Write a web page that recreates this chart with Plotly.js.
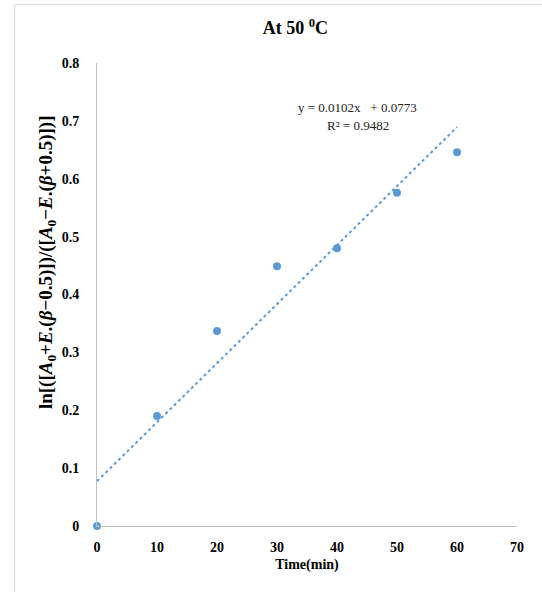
<!DOCTYPE html>
<html><head><meta charset="utf-8">
<script src="https://cdn.plot.ly/plotly-3.0.1.min.js"></script>
<style>html,body{margin:0;padding:0;background:#fff;}#chart{width:542px;height:592px;}</style>
</head><body><div id="chart"></div>
<script>
const timeMin = [0, 10, 20, 30, 40, 50, 60];
const lnRatio = [0, 0.190, 0.337, 0.449, 0.480, 0.576, 0.646];
const slope = 0.0102;
const intercept = 0.0773;
const trendX = [0, 60];
const xTicks = [0, 10, 20, 30, 40, 50, 60, 70];
const yTicks = [0, 0.1, 0.2, 0.3, 0.4, 0.5, 0.6, 0.7, 0.8];
const yLabel = 'ln[([<i>A</i><sub>0</sub>+<i>E</i>.(<i>β</i>−0.5)])/([<i>A</i><sub>0</sub>−<i>E</i>.(<i>β</i>+0.5)])]';

const trendY = trendX.map(x => slope * x + intercept);
const serif = "Liberation Serif, Times New Roman, serif";

const data = [
  {x: trendX, y: trendY, mode: 'lines', type: 'scatter',
   line: {color: '#5B9BD5', width: 2, dash: 'dot'}, hoverinfo: 'skip', showlegend: false},
  {x: timeMin, y: lnRatio, mode: 'markers', type: 'scatter', cliponaxis: false,
   marker: {color: '#5B9BD5', size: 8}, showlegend: false}
];

const layout = {
  width: 542, height: 592,
  paper_bgcolor: '#fff', plot_bgcolor: '#fff',
  margin: {l: 97, r: 25, t: 63, b: 66},
  title: {text: 'At 50 <sup>0</sup>C', font: {family: serif, size: 18, color: '#000', weight: 'bold'},
          x: 0.545, xanchor: 'center', y: 0.953, yanchor: 'middle'},
  xaxis: {range: [0, 70], tickvals: xTicks, ticktext: xTicks.map(v => String(v)),
          showgrid: false, zeroline: false, showline: true, linecolor: '#bfbfbf', linewidth: 1,
          ticks: '', ticklabelstandoff: 8, tickfont: {family: serif, size: 14, color: '#000', weight: 'bold'},
          title: {text: 'Time(min)', font: {family: serif, size: 14, color: '#000', weight: 'bold'}, standoff: 5}},
  yaxis: {range: [0, 0.8], tickvals: yTicks, ticktext: yTicks.map(v => (v === 0 ? '0' : v.toFixed(1))),
          showgrid: false, zeroline: false, showline: true, linecolor: '#bfbfbf', linewidth: 1,
          ticks: '', ticklabelstandoff: 14, tickfont: {family: serif, size: 14, color: '#000', weight: 'bold'}},
  annotations: [
    {xref: 'paper', yref: 'paper', x: 0.621, y: 0.903, xanchor: 'center', yanchor: 'middle', showarrow: false,
     text: 'y = 0.0102x   + 0.0773', font: {family: serif, size: 13, color: '#222'}},
    {xref: 'paper', yref: 'paper', x: 0.621, y: 0.866, xanchor: 'center', yanchor: 'middle', showarrow: false,
     text: 'R² = 0.9482', font: {family: serif, size: 13, color: '#222'}},
    {xref: 'paper', yref: 'paper', x: 0, xshift: -50, y: 0.570, xanchor: 'center', yanchor: 'middle',
     showarrow: false, textangle: -90, text: yLabel,
     font: {family: serif, size: 19, color: '#000', weight: 'bold'}}
  ],
  shapes: [
    {type: 'rect', xref: 'paper', yref: 'paper', x0: -0.196, x1: 1.1, y0: -0.2, y1: 1.126,
     line: {color: '#d9d9d9', width: 1}, fillcolor: 'rgba(0,0,0,0)', layer: 'below'}
  ]
};

Plotly.newPlot('chart', data, layout, {displayModeBar: false, staticPlot: true});
</script></body></html>
